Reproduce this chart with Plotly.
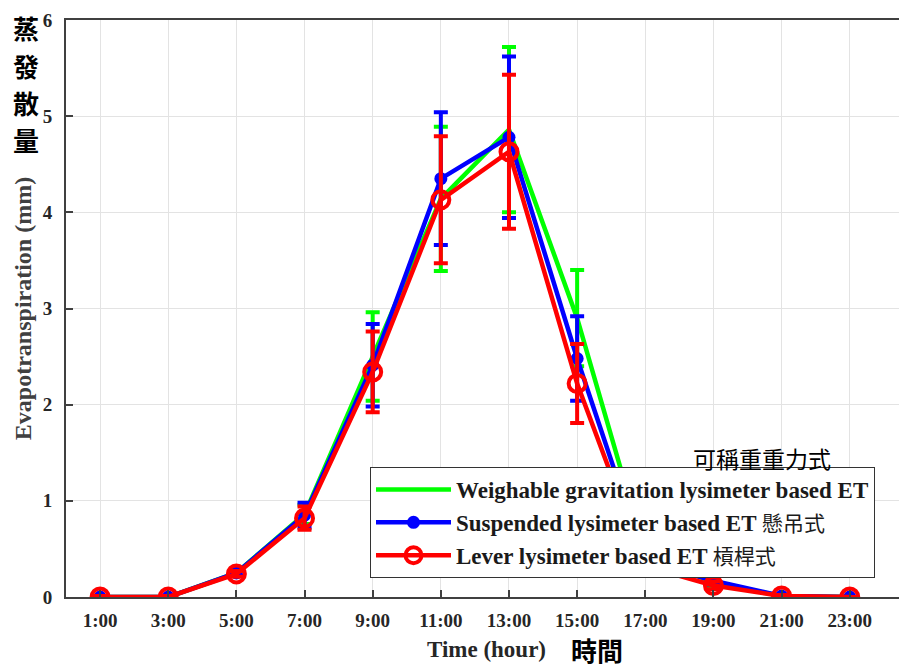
import plotly.graph_objects as go

times = ["1:00", "3:00", "5:00", "7:00", "9:00", "11:00", "13:00", "15:00", "17:00", "19:00", "21:00", "23:00"]
weighable = [0, 0, 0.25, 0.86, 2.50, 4.14, 4.86, 2.90, 0.45, 0.15, 0.01, 0]
weighable_err = [0.01, 0.01, 0.03, 0.10, 0.46, 0.75, 0.86, 0.50, 0.10, 0.05, 0.01, 0.0]
suspended = [0, 0, 0.25, 0.85, 2.41, 4.35, 4.78, 2.48, 0.36, 0.17, 0.01, 0]
suspended_err = [0.01, 0.01, 0.03, 0.13, 0.43, 0.69, 0.84, 0.44, 0.08, 0.04, 0.01, 0.0]
lever = [0, 0, 0.24, 0.82, 2.34, 4.13, 4.63, 2.22, 0.32, 0.12, 0.01, 0]
lever_err = [0.01, 0.01, 0.03, 0.12, 0.42, 0.66, 0.80, 0.41, 0.08, 0.04, 0.01, 0.0]

SERIF = "Liberation Serif, Times New Roman, serif"
CJK = "Noto Sans CJK TC"

def cjk(s):
    return f"<span style='font-family:{CJK};font-weight:normal;font-size:21px'>{s}</span>"

fig = go.Figure()
fig.add_trace(go.Scatter(
    x=times, y=weighable, mode="lines", name="Weighable gravitation lysimeter based ET",
    line=dict(color="#00ff00", width=4.5),
    error_y=dict(type="data", array=weighable_err, color="#00ff00", thickness=4, width=7),
))
fig.add_trace(go.Scatter(
    x=times, y=suspended, mode="lines+markers", name="Suspended lysimeter based ET " + cjk("懸吊式"),
    line=dict(color="#0000ff", width=4.5),
    marker=dict(symbol="circle", size=13, color="#0000ff"),
    error_y=dict(type="data", array=suspended_err, color="#0000ff", thickness=4, width=7),
))
fig.add_trace(go.Scatter(
    x=times, y=lever, mode="lines+markers", name="Lever lysimeter based ET " + cjk("槓桿式"),
    line=dict(color="#ff0000", width=4.5),
    marker=dict(symbol="circle-open", size=17, color="#ff0000", line=dict(width=4, color="#ff0000")),
    error_y=dict(type="data", array=lever_err, color="#ff0000", thickness=4, width=7),
))

axis_font = dict(family=SERIF, size=19, color="#262626", weight="bold")

# the page body adds an 8px offset; plot area sits at window x 66..907, y 20..597
OFF = 8
PLOT_L, PLOT_T, PLOT_B, PLOT_W, PLOT_H = 66, 20, 597, 841, 577

fig.update_layout(
    width=907 - OFF, height=670 - OFF,
    margin=dict(l=PLOT_L - OFF, r=0, t=PLOT_T - OFF, b=670 - PLOT_B, autoexpand=False),
    paper_bgcolor="white", plot_bgcolor="white",
    font=dict(family=SERIF, color="#262626"),
    xaxis=dict(
        type="category", range=[-0.5, 11.84],
        showgrid=True, gridcolor="#e3e3e3", gridwidth=1,
        showline=True, linecolor="#404040", linewidth=2, mirror=True,
        ticks="inside", ticklen=7, tickwidth=2, tickcolor="#404040",
        tickfont=axis_font, ticklabelstandoff=5,
        title=dict(text="<b>Time (hour)</b>", font=dict(family=SERIF, size=23, color="#262626"), standoff=11),
    ),
    yaxis=dict(
        range=[0, 6], dtick=1,
        showgrid=True, gridcolor="#e3e3e3", gridwidth=1,
        showline=True, linecolor="#404040", linewidth=2, mirror=False,
        ticks="inside", ticklen=7, tickwidth=2, tickcolor="#404040",
        tickfont=axis_font, zeroline=False, ticklabelstandoff=8,
        title=dict(text="<b>Evapotranspiration (mm)</b>", font=dict(family=SERIF, size=24, color="#404040"), standoff=4),
    ),
    legend=dict(
        x=(370 - PLOT_L) / PLOT_W, y=(PLOT_B - 578) / PLOT_H, xanchor="left", yanchor="bottom",
        bgcolor="white", bordercolor="#333333", borderwidth=1,
        font=dict(family=SERIF, size=23, color="#1a1a1a", weight="bold"),
        tracegroupgap=0, itemwidth=75,
    ),
    showlegend=True,
)

def px_x(p):
    return (p - PLOT_L) / PLOT_W

def px_y(p):
    return 1 - (p - PLOT_T) / PLOT_H

for i, ch in enumerate("蒸發散量"):
    fig.add_annotation(text=f"<b>{ch}</b>", xref="paper", yref="paper",
                       x=px_x(26), y=px_y(28 + 37 * i),
                       xanchor="center", yanchor="middle", showarrow=False,
                       font=dict(family=CJK, size=26, color="black"))

fig.add_annotation(text="<b>時間</b>", xref="paper", yref="paper",
                   x=px_x(597), y=px_y(650), xanchor="center", yanchor="middle",
                   showarrow=False, font=dict(family=CJK, size=26, color="black"))
fig.add_annotation(text="可稱重重力式", xref="paper", yref="paper",
                   x=px_x(762), y=px_y(458), xanchor="center", yanchor="middle",
                   showarrow=False, font=dict(family=CJK, size=23, color="black"))

fig.write_html("out.html")
